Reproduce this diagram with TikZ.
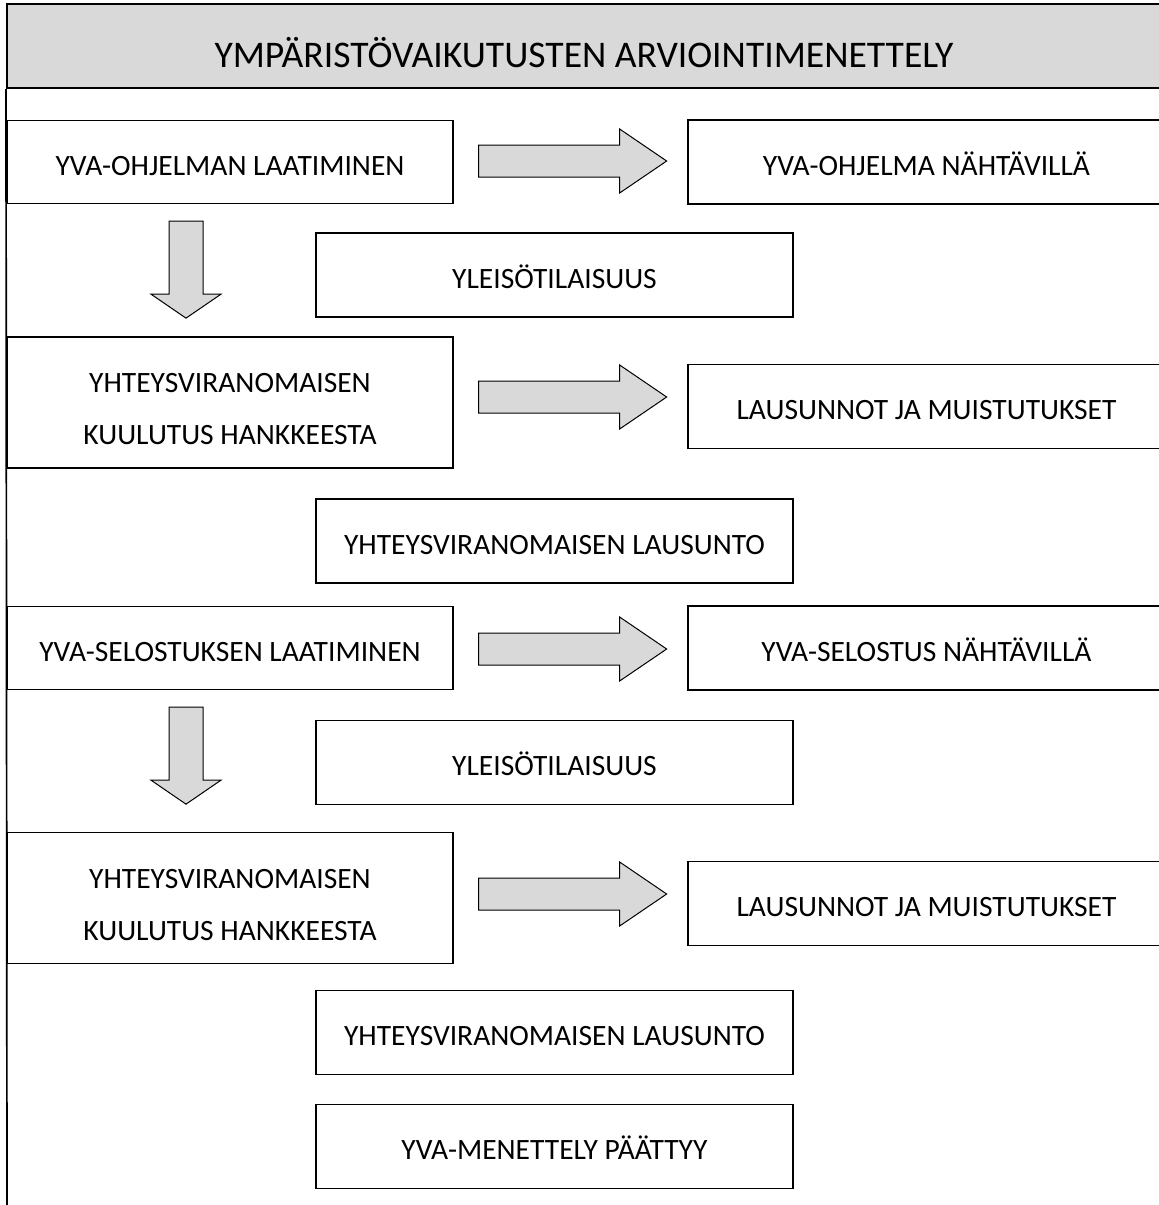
\documentclass[tikz,border=0pt]{standalone}
\usepackage{fontspec}
\setmainfont{Carlito}
\usepackage{tikz}
\usetikzlibrary{calc,positioning}
\definecolor{boxgrey}{HTML}{D9D9D9}
\tikzstyle{header} = [rectangle, minimum width=1154pt, minimum height=84pt, text centered, draw=black, line width=2pt, fill=boxgrey, font=\fontsize{37.6}{42}\selectfont, text height=42pt, text depth=0pt]
\tikzstyle{stage} = [rectangle, draw=black, line width=1.3pt, text centered, font=\fontsize{29.5}{52}\selectfont]
\tikzstyle{leftstage} = [stage, minimum width=446pt, minimum height=83pt, text height=26pt, text depth=0pt]
\tikzstyle{midstage} = [stage, minimum width=477pt, minimum height=84pt, text height=26pt, text depth=0pt]
\tikzstyle{notice} = [stage, minimum width=446pt, minimum height=131pt, align=center]
\tikzstyle{blockarrow} = [draw=black, line width=1pt, fill=boxgrey, line join=miter]
\tikzstyle{frameline} = [draw=black, line width=1.7pt]
\newcommand{\rightblock}[2]{\draw[blockarrow] ($(#1.east)+(25,#2-16)$) -- ++(141,0) -- ++(0,-16) -- ++(47,32) -- ++(-47,32) -- ++(0,-16) -- ++(-141,0) -- cycle;}
\newcommand{\downblock}[1]{\draw[blockarrow] ($(#1.south)+(-61,17)$) -- ++(34,0) -- ++(0,73) -- ++(18,0) -- ++(-35,24) -- ++(-35,-24) -- ++(18,0) -- cycle;}
\begin{document}
\begin{tikzpicture}[x=1pt,y=-1pt]
\useasboundingbox (0,0) rectangle (1159,1205);
\node (header) [header] at (584,46) {YMPÄRISTÖVAIKUTUSTEN ARVIOINTIMENETTELY};
\coordinate (framebottom) at (7,1215);
\draw [frameline] (header.south west) -- (framebottom);

\node (ohjlaad) [leftstage] at (230,162) {YVA-OHJELMAN LAATIMINEN};
\node (ohjnaht) [midstage] at (926.5,162) {YVA-OHJELMA NÄHTÄVILLÄ};
\node (yleiso1) [midstage] at (554.5,275) {YLEISÖTILAISUUS};
\node (kuul1) [notice] at (230,402.5) {\rule{0pt}{33pt}YHTEYSVIRANOMAISEN\\KUULUTUS HANKKEESTA};
\node (muist1) [midstage] at (926.5,406.5) {LAUSUNNOT JA MUISTUTUKSET};
\node (lausunto1) [midstage] at (554.5,541) {YHTEYSVIRANOMAISEN LAUSUNTO};
\node (selolaad) [leftstage] at (230,648) {YVA-SELOSTUKSEN LAATIMINEN};
\node (selonaht) [midstage] at (926.5,648) {YVA-SELOSTUS NÄHTÄVILLÄ};
\node (yleiso2) [midstage] at (554.5,762.5) {YLEISÖTILAISUUS};
\node (kuul2) [notice] at (230,898) {\rule{0pt}{33pt}YHTEYSVIRANOMAISEN\\KUULUTUS HANKKEESTA};
\node (muist2) [midstage] at (926.5,903.5) {LAUSUNNOT JA MUISTUTUKSET};
\node (lausunto2) [midstage] at (554.5,1032.5) {YHTEYSVIRANOMAISEN LAUSUNTO};
\node (paattyy) [midstage] at (554.5,1146.5) {YVA-MENETTELY PÄÄTTYY};

\rightblock{ohjlaad}{-1}
\rightblock{kuul1}{-5.5}
\rightblock{selolaad}{1}
\rightblock{kuul2}{-4}
\downblock{ohjlaad}
\downblock{selolaad}

\end{tikzpicture}
\end{document}
